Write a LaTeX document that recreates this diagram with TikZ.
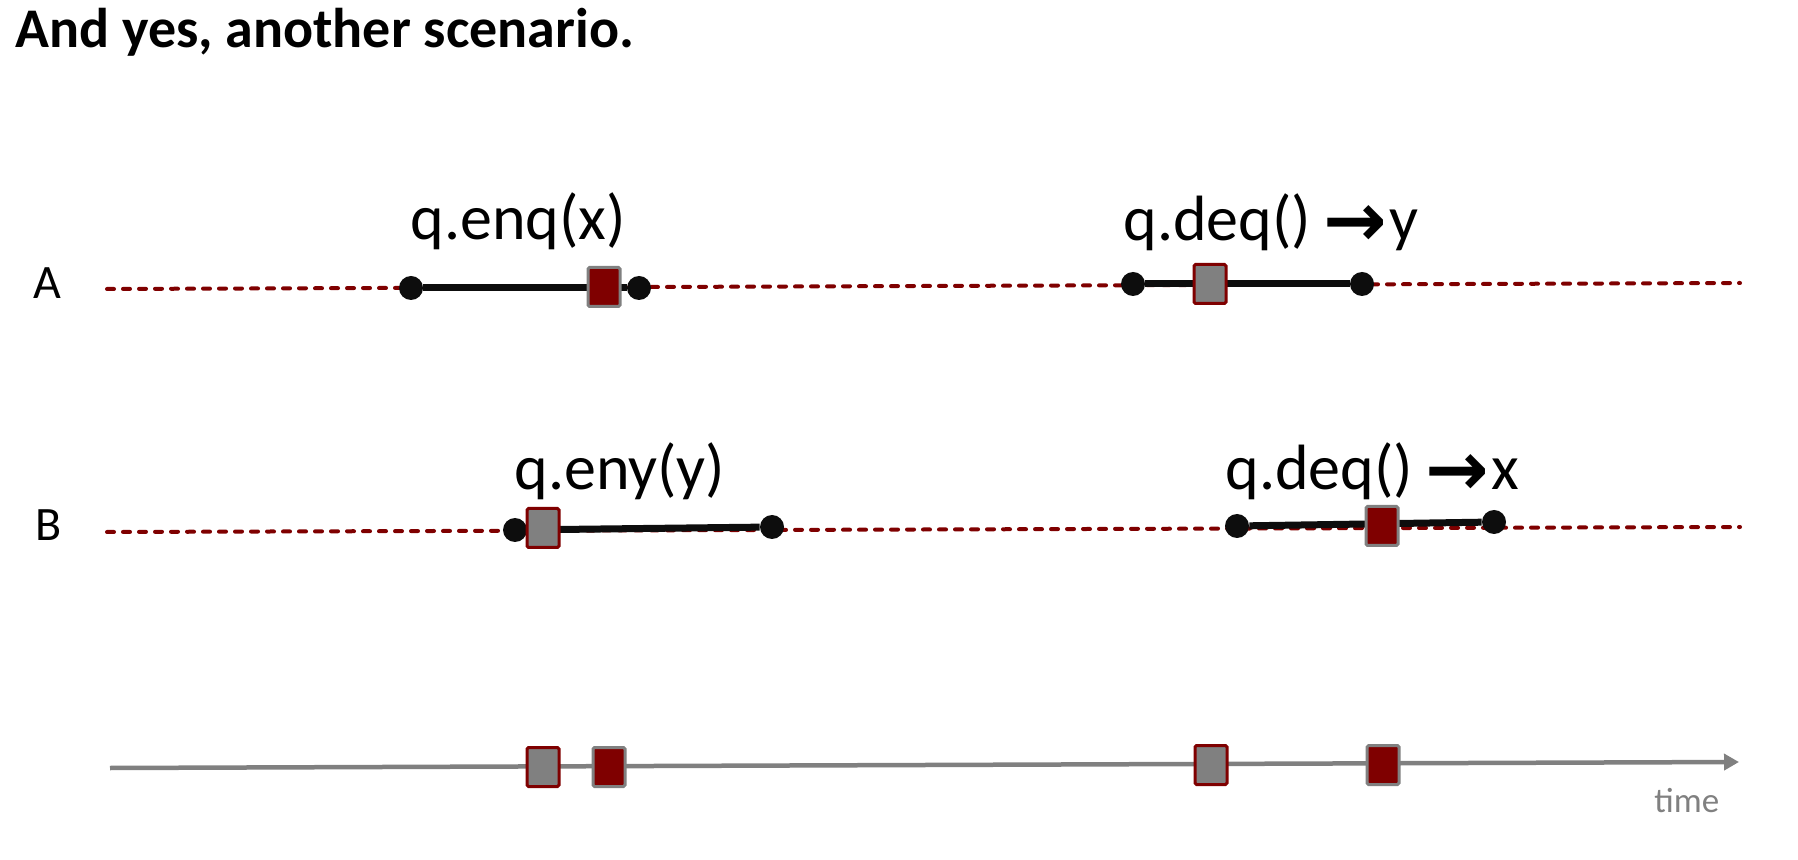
\documentclass[tikz,border=0pt]{standalone}
\usepackage{fontspec}
\setmainfont{Carlito}
\newfontfamily\arrowfont{DejaVu Sans}
\usetikzlibrary{arrows.meta}
\definecolor{darkred}{HTML}{7F0000}
\definecolor{midgray}{HTML}{808080}
\definecolor{inkblack}{HTML}{0D0D0D}
\newcommand{\bigarrow}{\kern-1pt\raisebox{-3pt}{\arrowfont\bfseries\fontsize{38}{42}\selectfont →}\kern1pt}
\tikzset{
  dashline/.style={draw=darkred, line width=2pt, dash pattern=on 3.5pt off 4.5pt, line cap=round},
  opline/.style={draw=inkblack, line width=3.5pt},
  dot/.style={circle, fill=inkblack, inner sep=0pt, minimum size=12pt},
  redsq/.style={rectangle, fill=darkred, draw=midgray, line width=1.5pt, inner sep=0pt, minimum width=16pt, minimum height=19.5pt, rounded corners=0.8pt},
  graysq/.style={rectangle, fill=midgray, draw=darkred, line width=1.5pt, inner sep=0pt, minimum width=16pt, minimum height=19.5pt, rounded corners=0.8pt},
  oplabel/.style={anchor=base west, inner sep=0pt, font=\fontsize{32}{38}\selectfont},
  proclabel/.style={anchor=base west, inner sep=0pt, font=\fontsize{24}{29}\selectfont},
  timeline/.style={draw=midgray, line width=2.25pt, -{Triangle[length=7.5pt,width=8pt]}}
}
\begin{document}
\begin{tikzpicture}[x=0.5pt,y=-0.5pt]
\useasboundingbox (0,0) rectangle (1798,860);
% title
\node[anchor=base west, inner sep=0pt, font=\fontsize{28}{34}\selectfont\bfseries] (title) at (15,48) {And yes, another scenario.};
% process labels
\node[proclabel] (labA) at (33,299) {A};
\node[proclabel] (labB) at (35,540) {B};
% dashed timelines
\coordinate (As) at (107,289); \coordinate (Ae) at (1740,283);
\coordinate (Bs) at (107,532); \coordinate (Be) at (1740,527);
\draw[dashline] (As) -- (Ae);
\draw[dashline] (Bs) -- (Be);
% dots
\node[dot] (a1) at (411,288) {};
\node[dot] (a2) at (639,288) {};
\node[dot] (a3) at (1133,284) {};
\node[dot] (a4) at (1362,284) {};
\node[dot] (b1) at (515,530) {};
\node[dot] (b2) at (772,527) {};
\node[dot] (b3) at (1237,526) {};
\node[dot] (b4) at (1494,522) {};
% operation intervals
\draw[opline] (a1) -- (a2);
\draw[opline] (a3) -- (a4);
\draw[opline] (b1) -- (b2);
\draw[opline] (b3) -- (b4);
% linearization points
\node[redsq] (sqA1) at (604,287) {};
\node[graysq] (sqA2) at (1210,284) {};
\node[graysq] (sqB1) at (543,528) {};
\node[redsq] (sqB2) at (1382,526) {};
% operation labels
\node[oplabel] (enq) at (410,240) {q.enq(x)};
\node[oplabel] (deqA) at (1123,241) {q.deq() \bigarrow y};
\node[oplabel] (eny) at (514,490) {q.eny(y)};
\node[oplabel] (deqB) at (1225,490) {q.deq() \bigarrow x};
% time axis
\coordinate (Ts) at (110,768); \coordinate (Te) at (1739,762);
\draw[timeline] (Ts) -- (Te);
\node[graysq] (t1) at (543,767) {};
\node[redsq] (t2) at (609,767) {};
\node[graysq] (t3) at (1211,765) {};
\node[redsq] (t4) at (1383,765) {};
\node[anchor=base west, inner sep=0pt, text=midgray, font=\fontsize{17.5}{21}\selectfont] (time) at (1654,812) {time};
\end{tikzpicture}
\end{document}
